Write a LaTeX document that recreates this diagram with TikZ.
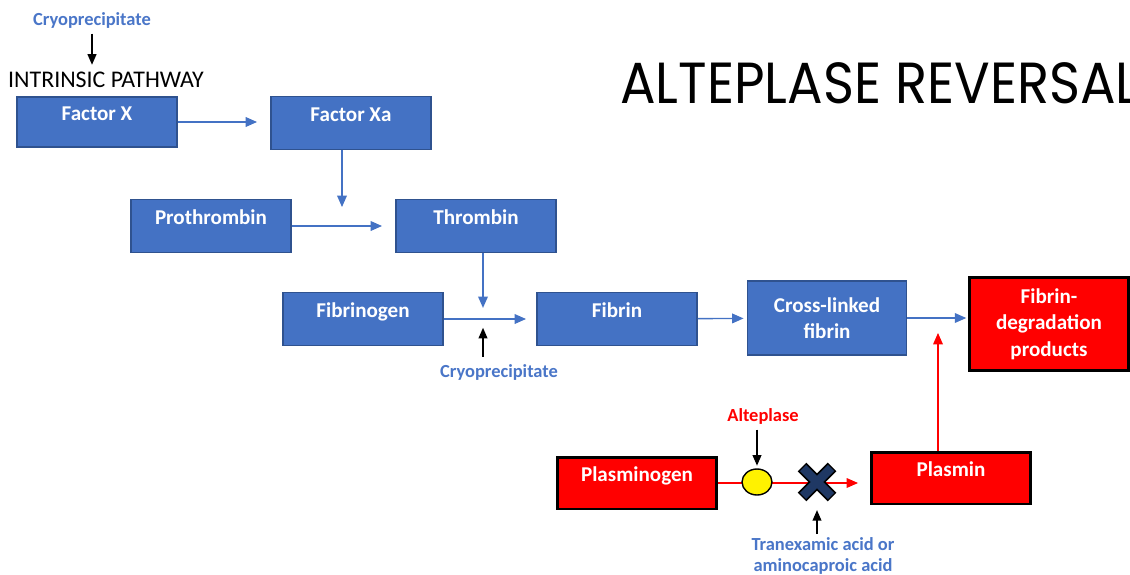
\documentclass[tikz,border=0pt]{standalone}
\usepackage{fontspec}
\setmainfont{Carlito}
\newfontfamily\titlefont{Poppins}
\usepackage{xcolor}
\usetikzlibrary{arrows.meta,shapes.geometric}
\definecolor{boxblue}{HTML}{4472C4}
\definecolor{boxborder}{HTML}{2F528F}
\definecolor{arrowblue}{HTML}{4472C4}
\definecolor{lblblue}{HTML}{4A76C8}
\definecolor{xnavy}{HTML}{1F3864}

\begin{document}
\begin{tikzpicture}[x=0.02cm,y=-0.02cm,
  blk/.style={draw=boxborder,line width=1.1pt,fill=boxblue,text=white,font=\fontsize{12}{15}\selectfont\bfseries,minimum width=3.2cm,minimum height=1.06cm,align=center},
  redblk/.style={blk,draw=black,line width=1.7pt,fill=red},
  lift/.style={text height=7pt,text depth=9pt},
  lbl/.style={text=lblblue,font=\fontsize{10.5}{11.5}\selectfont\bfseries,inner sep=1pt},
  bluearrow/.style={-{Triangle[length=6.5pt,width=5.5pt]},draw=arrowblue,line width=0.8pt},
  blackarrow/.style={-{Triangle[length=6pt,width=5pt]},black,line width=0.8pt},
  redarrow/.style={-{Triangle[length=6.5pt,width=5.5pt]},red,line width=0.7pt}]
\clip (0,0) rectangle (1130,575);
\fill[white] (0,0) rectangle (1130,575);

% Title
\node[anchor=base west,inner sep=0,font=\titlefont\fontsize{33}{36}\selectfont] (title) at (620,103) {\scalebox{0.91}[1]{ALTEPLASE REVERSAL}};

% Intrinsic pathway
\node[lbl] (cryotop) at (92,20) {Cryoprecipitate};
\node[inner sep=1pt,font=\fontsize{13.6}{15}\selectfont] (intrinsic) at (106,80) {INTRINSIC PATHWAY};
\draw[blackarrow,shorten <=2pt,shorten >=3pt] (cryotop.south) -- (cryotop.south |- intrinsic.north);

\node[blk,lift,minimum height=1cm] (factorx) at (97,122) {Factor X};
\node[blk,lift] (factorxa) at (351,123) {Factor Xa};
\draw[bluearrow,shorten >=7.4pt] (factorx.east) -- (factorx.east -| factorxa.west);

% Thrombin formation
\node[blk,lift] (prothrombin) at (211,226) {Prothrombin};
\node[blk,lift] (thrombin) at (476,226) {Thrombin};
\coordinate (xajoin) at (342,226);
\draw[bluearrow,shorten >=10.8pt] (factorxa.south -| xajoin) -- (xajoin);
\draw[bluearrow,shorten >=7.4pt] (prothrombin) -- (thrombin);

% Fibrin formation
\node[blk,lift] (fibrinogen) at (363,319) {Fibrinogen};
\node[blk,lift] (fibrin) at (617,319) {Fibrin};
\coordinate (thjoin) at (483,319);
\draw[bluearrow,shorten >=6.3pt] (thrombin.south -| thjoin) -- (thjoin);
\draw[bluearrow,shorten >=5.7pt] (fibrinogen) -- (fibrin);
\node[lbl] (cryobot) at (499,372) {Cryoprecipitate};
\draw[blackarrow,shorten <=3pt,shorten >=5pt] (cryobot.north -| thjoin) -- (thjoin);

\node[blk,minimum width=3.18cm,minimum height=1.48cm] (crosslinked) at (827,318) {Cross-linked\\fibrin};
\draw[bluearrow,shorten >=1.7pt] (fibrin) -- (crosslinked);
\node[redblk,minimum width=3.18cm,minimum height=1.86cm] (fdp) at (1049,324) {Fibrin-\\degradation\\products};
\draw[bluearrow,shorten >=1pt] (crosslinked.east) -- (fdp.west |- crosslinked.east);

% Fibrinolysis
\node[redblk,lift,minimum height=1.04cm] (plasminogen) at (637,483) {Plasminogen};
\node[redblk,lift,minimum width=3.18cm,minimum height=1.04cm] (plasmin) at (951,478) {Plasmin};
\coordinate (fdpjoin) at (938,321);
\draw[redarrow,shorten >=6.8pt] (plasmin.north -| fdpjoin) -- (fdpjoin);
\draw[redarrow,shorten >=6.8pt] (plasminogen) -- (plasminogen -| plasmin.west);

\node[lbl,text=red] (alteplase) at (763,416) {Alteplase};
\node[ellipse,draw,line width=0.8pt,fill=yellow,minimum width=0.6cm,minimum height=0.52cm,inner sep=0] (circ) at (757,482) {};
\draw[blackarrow,shorten <=2pt,shorten >=1.5pt] (alteplase.south -| circ) -- (circ.north);

% Blocked step
\coordinate (block) at (817,482);
\draw[line width=7pt,black] (802,467) -- (832,497) (802,497) -- (832,467);
\draw[line width=5pt,xnavy] (803,468) -- (831,496) (803,496) -- (831,468);
\node[lbl,align=center] (tranex) at (823,556) {Tranexamic acid or\\aminocaproic acid};
\draw[blackarrow,shorten <=1pt,shorten >=16pt] (tranex.north -| block) -- (block);
\end{tikzpicture}
\end{document}
